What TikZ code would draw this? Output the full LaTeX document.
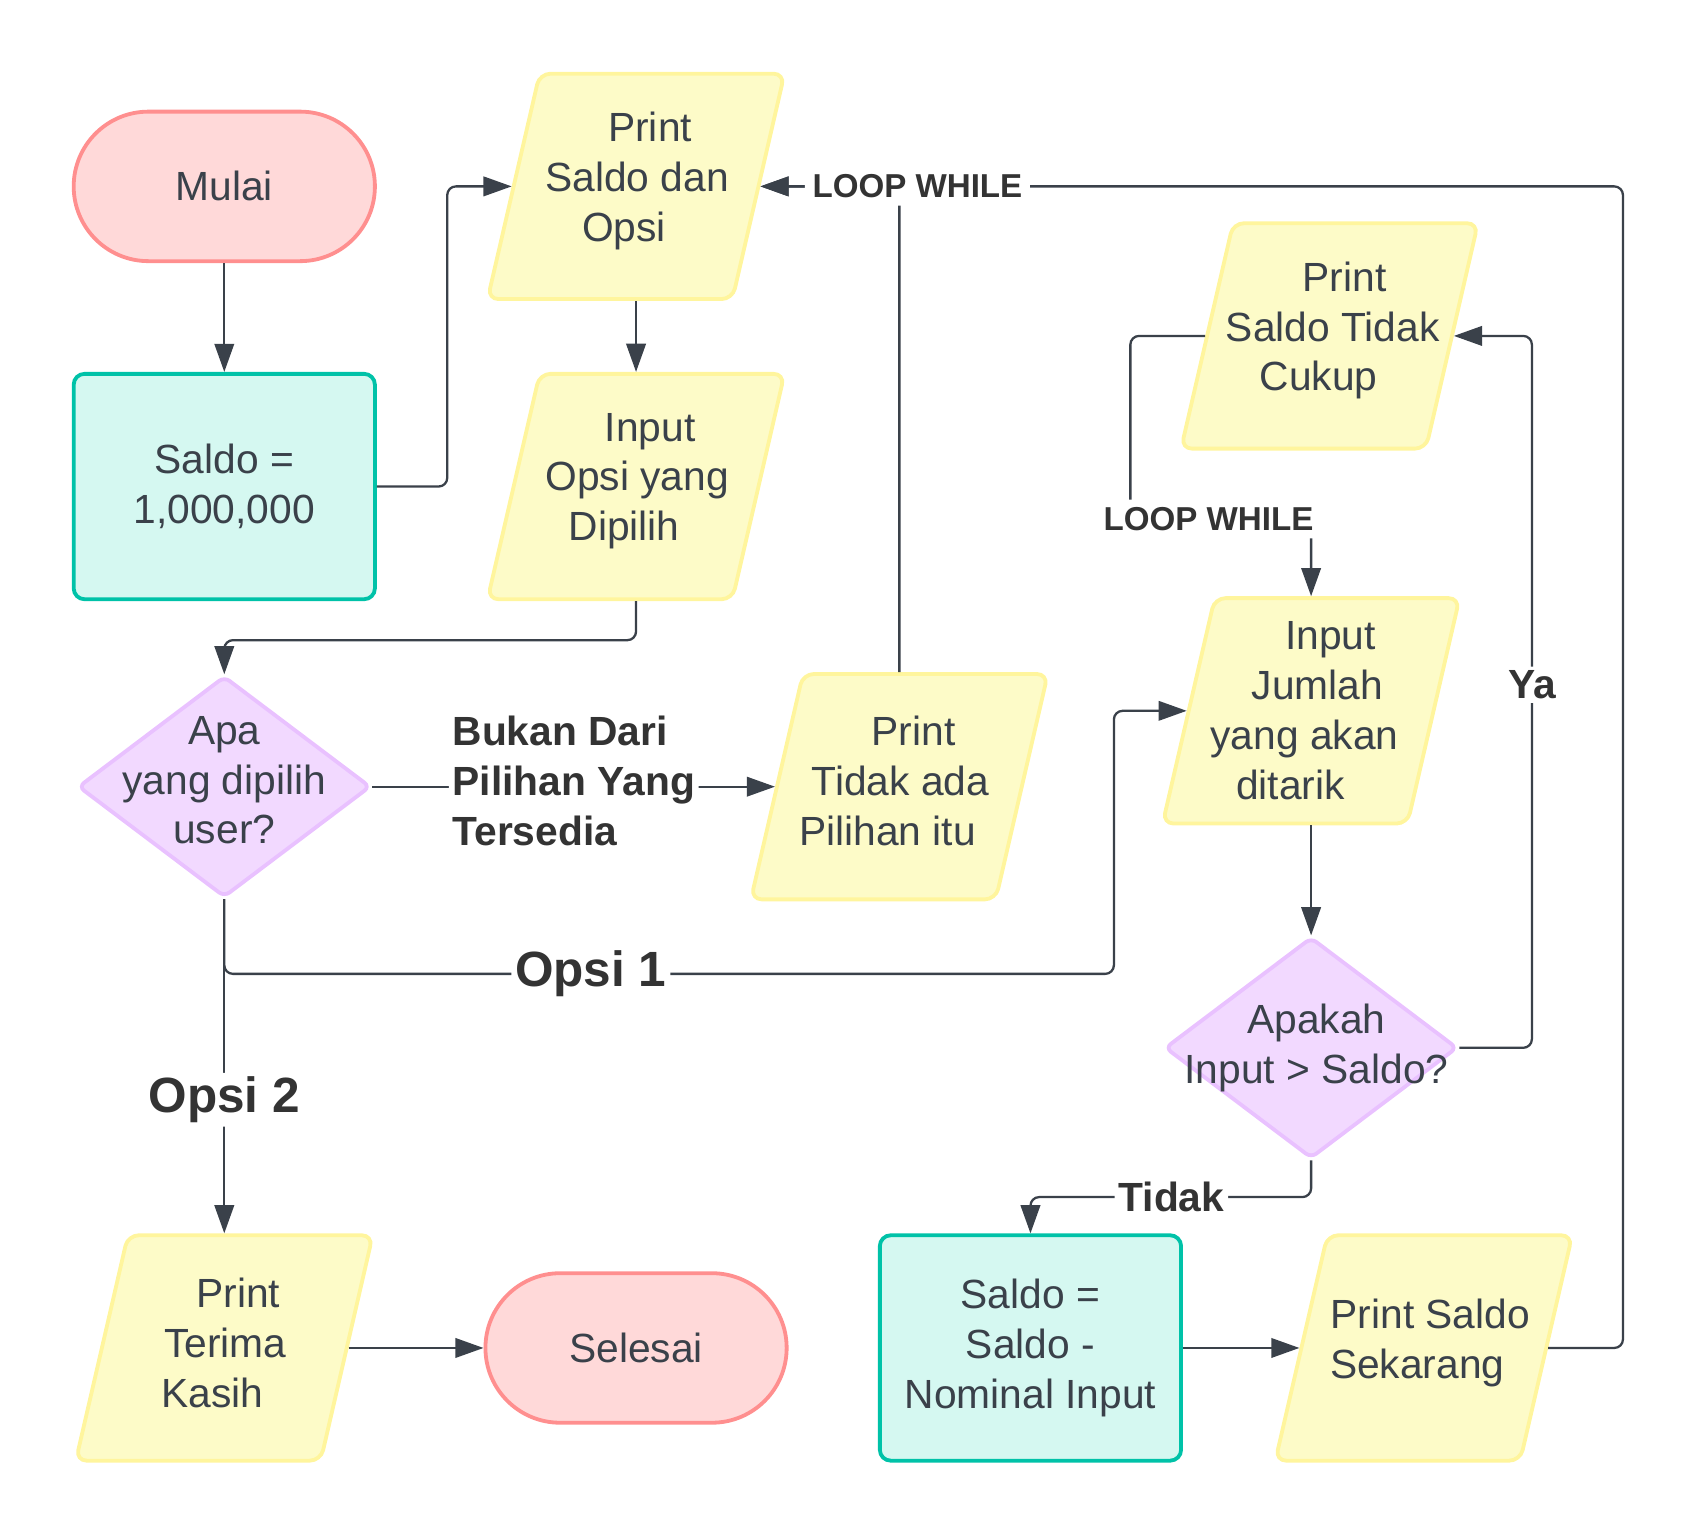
\documentclass[tikz,border=0pt]{standalone}
\usepackage{fontspec}
\setmainfont{Liberation Sans}
\usetikzlibrary{arrows.meta,positioning,shapes.geometric}
\usepackage{xcolor}

\definecolor{inkclr}{HTML}{3A414A}
\definecolor{lineclr}{HTML}{3A414A}
\definecolor{labelclr}{HTML}{333333}
\definecolor{termfill}{HTML}{FFD9D9}
\definecolor{termline}{HTML}{FF8F8F}
\definecolor{procfill}{HTML}{D5F8F1}
\definecolor{procline}{HTML}{00C2A8}
\definecolor{iofill}{HTML}{FDFBC8}
\definecolor{ioline}{HTML}{FFF59D}
\definecolor{decfill}{HTML}{F2D9FF}
\definecolor{decline}{HTML}{E9C1FF}

% one line of a slanted box, moved sideways
\newcommand{\sline}[2]{\makebox[0pt]{\hspace*{#1}#2\hspace*{-#1}}}

\begin{document}
\begin{tikzpicture}[
    >={Triangle[length=2.6mm,width=1.8mm]},
    node distance=2.77cm and 3.8cm, on grid,
    basefont/.style={font=\fontsize{10.7}{13.1}\selectfont, text=inkclr},
    terminal/.style={basefont, draw=termline, fill=termfill, line width=1pt,
                     rounded corners=0.69cm, minimum width=2.78cm, minimum height=1.38cm},
    process/.style={basefont, draw=procline, fill=procfill, line width=1pt, align=center,
                    rounded corners=0.1cm, minimum width=2.78cm, minimum height=2.08cm},
    io/.style={trapezium, trapezium left angle=77, trapezium right angle=103,
               trapezium stretches body, draw=ioline, fill=iofill, line width=1pt,
               rounded corners=0.1cm, minimum width=2.74cm,
               inner xsep=0pt, inner ysep=1.04cm},
    iotext/.style={basefont, align=center, yshift=0.05cm},
    decision/.style={diamond, draw=decline, fill=decfill, line width=1pt,
                     rounded corners=0.06cm, minimum width=2.70cm, minimum height=2.04cm,
                     inner sep=0pt},
    dtext/.style={basefont, align=center},
    arr/.style={->, draw=lineclr, line width=0.6pt, rounded corners=0.08cm},
    lbl/.style={font=\bfseries\fontsize{10.7}{13.1}\selectfont, text=labelclr,
                fill=white, inner sep=1pt},
    looplbl/.style={lbl, font=\bfseries\fontsize{8.7}{10.5}\selectfont, inner sep=2pt},
    optlbl/.style={lbl, font=\bfseries\fontsize{13}{15.6}\selectfont}
  ]
  \useasboundingbox (0,0) rectangle (15.68,-14.19);

  \node (mulai)    [terminal] at (2.07,-1.72) {Mulai};
  \node (saldo)    [process, below=of mulai]  {Saldo =\\1,000,000};
  \node (opsi)     [io, right=of mulai, label={[iotext]center:%
        \sline{0.13cm}{Print}\\\sline{0.01cm}{Saldo dan}\\\sline{-0.11cm}{Opsi}}] {};
  \node (pilih)    [io, below=of opsi, label={[iotext]center:%
        \sline{0.13cm}{Input}\\\sline{0.01cm}{Opsi yang}\\\sline{-0.11cm}{Dipilih}}] {};
  \node (choice)   [decision, below=of saldo,
                    label={[dtext, yshift=0.06cm]center:Apa\\yang dipilih\\user?}] {};
  \node (invalid)  [io, right=6.23cm of choice, label={[iotext]center:%
        \sline{0.13cm}{Print}\\\sline{0.01cm}{Tidak ada}\\\sline{-0.11cm}{Pilihan itu}}] {};
  \node (terima)   [io, below=5.18cm of choice, label={[iotext]center:%
        \sline{0.13cm}{Print}\\\sline{0.01cm}{Terima}\\\sline{-0.11cm}{Kasih}}] {};
  \node (selesai)  [terminal, right=of terima] {Selesai};
  \node (jumlah)   [io, label={[iotext, yshift=-0.05cm]center:%
        \sline{0.18cm}{Input}\\\sline{0.06cm}{Jumlah}\\\sline{-0.06cm}{yang akan}\\\sline{-0.19cm}{ditarik}}]
        at (12.10,-6.56) {};
  \node (cukup)    [io, above right=3.46cm and 0.17cm of jumlah, label={[iotext]center:%
        \sline{0.14cm}{Print}\\\sline{0.03cm}{Saldo Tidak}\\\sline{-0.10cm}{Cukup}}] {};
  \node (cek)      [decision, below=3.11cm of jumlah,
                    label={[dtext, xshift=0.05cm]center:Apakah\\Input > Saldo?}] {};
  \node (kurang)   [process, below left=2.77cm and 2.59cm of cek] {Saldo =\\Saldo -\\Nominal Input};
  \node (sekarang) [io, right=3.63cm of kurang, label={[iotext]center:%
        \sline{0.06cm}{Print Saldo}\\\sline{-0.06cm}{Sekarang}}] {};

  \draw[arr] (mulai) -- (saldo);
  \draw[arr] (saldo.east) -- ++(0.65,0) |- (opsi.west);
  \draw[arr] (opsi) -- (pilih);
  \draw[arr] (pilih.south) -- ++(0,-0.36) -| (choice.north);
  \draw[arr] (choice.east) -- node[lbl, align=left, yshift=0.05cm]
        {Bukan Dari\\Pilihan Yang\\Tersedia} (invalid.west);
  \draw[arr] (invalid.north) |- (opsi.east);
  \draw[arr] (sekarang.east) -- ++(0.69,0) |- node[looplbl, pos=0.909] {LOOP WHILE} (opsi.east);
  \draw[arr] (choice.south) -- node[optlbl, pos=0.6] {Opsi 2} (terima.north);
  \draw[arr] (choice.south) |- node[optlbl, pos=0.706] {Opsi 1} ++(8.21,-0.69) |- (jumlah.west);
  \draw[arr] (cukup.west) -| ++(-0.69,-1.69) -| node[looplbl, pos=0.216] {LOOP WHILE} (jumlah.north);
  \draw[arr] (jumlah) -- (cek);
  \draw[arr] (cek.east) -- ++(0.67,0) |- node[lbl, pos=0.255] {Ya} (cukup.east);
  \draw[arr] (cek.south) -- ++(0,-0.34) -| node[lbl, pos=0.249] {Tidak} (kurang.north);
  \draw[arr] (kurang) -- (sekarang);
  \draw[arr] (terima) -- (selesai);
\end{tikzpicture}
\end{document}
